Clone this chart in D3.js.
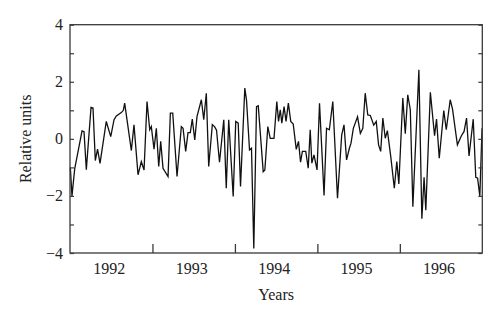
<!DOCTYPE html>
<html>
<head>
<meta charset="utf-8">
<script src="https://cdn.jsdelivr.net/npm/d3@7"></script>
<style>
  html, body { margin: 0; padding: 0; background: #fff; }
  svg { display: block; }
  text { font-family: "Liberation Serif", "DejaVu Serif", serif; fill: #222; }
</style>
</head>
<body>
<svg id="chart" width="500" height="321"></svg>
<script>
// Decimal year of each vertex of the series
const years = [
  1992.004, 1992.024, 1992.057, 1992.146, 1992.170, 1992.198, 1992.255, 1992.279, 1992.307, 1992.334,
  1992.364, 1992.440, 1992.494, 1992.534, 1992.562, 1992.622, 1992.647, 1992.663, 1992.744, 1992.776,
  1992.825, 1992.865, 1992.898, 1992.934, 1992.967, 1992.986, 1993.019, 1993.047, 1993.076, 1993.100,
  1993.128, 1993.189, 1993.217, 1993.246, 1993.298, 1993.350, 1993.371, 1993.403, 1993.431, 1993.459,
  1993.483, 1993.513, 1993.540, 1993.593, 1993.622, 1993.653, 1993.682, 1993.726, 1993.753, 1993.777,
  1993.813, 1993.865, 1993.895, 1993.925, 1993.979, 1994.010, 1994.040, 1994.068, 1994.120, 1994.141,
  1994.177, 1994.201, 1994.229, 1994.262, 1994.283, 1994.343, 1994.363, 1994.399, 1994.428, 1994.474,
  1994.508, 1994.529, 1994.550, 1994.569, 1994.596, 1994.620, 1994.648, 1994.677, 1994.707, 1994.744,
  1994.771, 1994.796, 1994.818, 1994.859, 1994.889, 1994.913, 1994.933, 1994.959, 1994.996, 1995.026,
  1995.081, 1995.111, 1995.145, 1995.187, 1995.244, 1995.295, 1995.323, 1995.354, 1995.388, 1995.408,
  1995.436, 1995.487, 1995.521, 1995.551, 1995.580, 1995.611, 1995.642, 1995.684, 1995.714, 1995.742,
  1995.768, 1995.794, 1995.823, 1995.849, 1995.890, 1995.933, 1995.963, 1995.988, 1996.036, 1996.066,
  1996.096, 1996.127, 1996.158, 1996.231, 1996.267, 1996.294, 1996.315, 1996.370, 1996.421, 1996.445,
  1996.478, 1996.533, 1996.563, 1996.611, 1996.639, 1996.698, 1996.745, 1996.779, 1996.809, 1996.839,
  1996.890, 1996.921, 1996.943, 1996.970, 1996.997
];
// Relative units
const values = [
  -1.00, -2.00, -1.05, 0.28, 0.25, -1.08, 1.10, 1.08, -0.76, -0.36,
  -0.86, 0.61, 0.08, 0.67, 0.80, 0.92, 1.00, 1.25, -0.41, 0.49,
  -1.26, -0.80, -1.09, 1.31, 0.32, 0.43, -0.36, 0.37, -0.97, -0.09,
  -1.03, -1.32, 0.90, 0.90, -1.32, 0.43, 0.37, -0.44, 0.22, 0.22,
  0.69, -0.04, 0.78, 1.37, 0.67, 1.60, -0.97, 0.50, 0.43, 0.30,
  -0.82, 0.67, -1.73, 0.67, -2.02, 0.61, 0.55, -1.67, 1.78, 1.34,
  -0.39, -0.33, -3.84, 1.13, 1.16, -1.15, -1.09, 0.43, 0.02, 0.02,
  1.31, 0.61, 1.02, 0.55, 1.13, 0.61, 1.25, 0.61, 0.52, -0.37,
  -0.09, -0.82, -0.44, -0.44, -1.03, 0.32, -0.85, -0.56, -1.09, 1.25,
  -1.98, 0.37, 0.32, 1.31, -2.08, 0.14, 0.49, -0.74, -0.33, -0.15,
  0.37, 0.77, 0.19, 0.37, 1.60, 0.84, 0.82, 0.48, 0.61, -0.21,
  -0.44, 0.73, 0.02, 0.29, -0.62, -1.73, -0.80, -1.58, 1.43, 0.18,
  1.54, 1.02, -2.38, 2.42, -2.80, -1.35, -2.50, 1.63, 0.11, 0.69,
  -0.68, 0.99, 0.32, 1.37, 1.04, -0.21, 0.10, 0.26, 0.73, -0.60,
  0.69, -1.35, -1.38, -2.01, 0.37
];
const yearLabels = ["1992", "1993", "1994", "1995", "1996"];
const yTickValues = [-4, -3, -2, -1, 0, 1, 2, 3, 4];
const yLabelValues = [-4, -2, 0, 2, 4];
const xTickValues = [1993, 1994, 1995, 1996];
const xTitle = "Years";
const yTitle = "Relative units";

(function () {
  const data = years.map((t, i) => ({ t, v: values[i] }));

  const svg = d3.select("#chart");
  const pLeft = 70, pRight = 482.3, pTop = 24.7, pBottom = 253;

  const x = d3.scaleLinear().domain([1992, 1997]).range([pLeft, pRight]);
  const y = d3.scaleLinear().domain([-4, 4]).range([pBottom, pTop]);

  const axisColor = "#3a3a3a";

  // data line
  svg.append("path")
    .datum(data)
    .attr("fill", "none")
    .attr("stroke", "#111")
    .attr("stroke-width", 1.3)
    .attr("stroke-linejoin", "miter")
    .attr("d", d3.line().x(d => x(d.t)).y(d => y(d.v)));

  // frame
  svg.append("rect")
    .attr("x", pLeft).attr("y", pTop)
    .attr("width", pRight - pLeft).attr("height", pBottom - pTop)
    .attr("fill", "none").attr("stroke", axisColor).attr("stroke-width", 1.3);

  // left axis ticks inward
  const gL = svg.append("g").attr("transform", `translate(${pLeft},0)`)
    .call(d3.axisLeft(y).tickValues(yTickValues).tickSize(-4).tickFormat(""));
  gL.select(".domain").remove();
  gL.selectAll("line").attr("stroke", axisColor).attr("stroke-width", 1.2);

  // right axis ticks inward
  const gR = svg.append("g").attr("transform", `translate(${pRight},0)`)
    .call(d3.axisRight(y).tickValues(yTickValues).tickSize(-4).tickFormat(""));
  gR.select(".domain").remove();
  gR.selectAll("line").attr("stroke", axisColor).attr("stroke-width", 1.2);

  // y labels
  svg.append("g").selectAll("text")
    .data(yLabelValues).join("text")
    .attr("x", 63).attr("y", d => y(d) + 5.5)
    .attr("text-anchor", "end")
    .attr("font-size", 16)
    .text(d => d < 0 ? "\u2212" + Math.abs(d) : String(d));

  // bottom axis ticks inward at year boundaries
  const gB = svg.append("g").attr("transform", `translate(0,${pBottom})`)
    .call(d3.axisBottom(x).tickValues(xTickValues).tickSize(-9).tickFormat(""));
  gB.select(".domain").remove();
  gB.selectAll("line").attr("stroke", axisColor).attr("stroke-width", 1.3);

  // year labels at mid-year
  svg.append("g").selectAll("text")
    .data(yearLabels).join("text")
    .attr("x", d => x(+d + 0.5) - 2)
    .attr("y", 274)
    .attr("text-anchor", "middle")
    .attr("font-size", 16)
    .text(d => d);

  // axis titles
  svg.append("text")
    .attr("x", (pLeft + pRight) / 2).attr("y", 300)
    .attr("text-anchor", "middle")
    .attr("font-size", 16)
    .text(xTitle);

  svg.append("text")
    .attr("transform", `translate(31,${(pTop + pBottom) / 2}) rotate(-90)`)
    .attr("text-anchor", "middle")
    .attr("font-size", 16)
    .text(yTitle);
})();
</script>
</body>
</html>
